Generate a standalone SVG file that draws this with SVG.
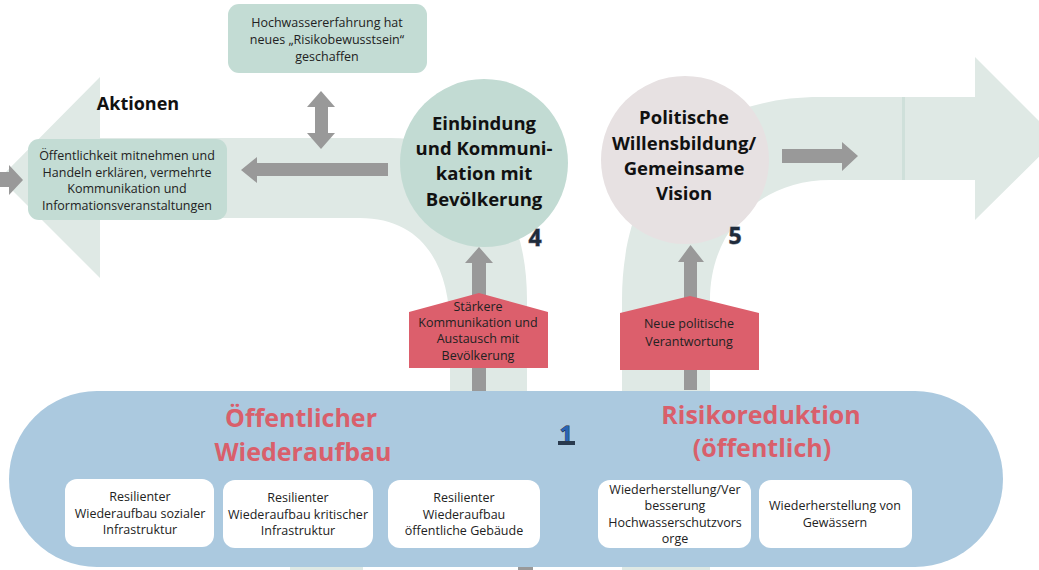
<svg xmlns="http://www.w3.org/2000/svg" width="1039" height="570" viewBox="0 0 1039 570">
<style>
.band{fill:#dfe9e5}
.garrow{fill:#999999}
.gbox{fill:#c3dcd4}
.wbox{fill:#ffffff}
.red{fill:#dc5f6c}
.t{font-family:"Open Sans","DejaVu Sans",sans-serif;font-size:12.5px;fill:#222222;text-anchor:middle}
.tb{font-family:"Open Sans","DejaVu Sans",sans-serif;font-size:18.5px;font-weight:bold;fill:#111111;text-anchor:middle}
.th{font-family:"Open Sans","DejaVu Sans",sans-serif;font-size:25px;font-weight:bold;fill:#d95f6b;text-anchor:middle}
.num{font-family:"Open Sans","DejaVu Sans",sans-serif;font-size:23px;font-weight:bold;fill:#1f2b3b;stroke:#7a8591;stroke-width:0.8;paint-order:stroke;text-anchor:middle}
</style>
<g id="background">
  <path class="band" d="M0,178 L100,77 L100,138 L390,138 C470,138 527,195 527,300 L527,400 L450,400 L450,330 C450,262 420,218 360,218 L100,218 L100,278 Z"/>
  <path class="band" d="M622,570 L622,300 C622,170 700,97 820,97 L975,97 L975,57 L1057,139 L975,220 L975,180 L830,180 C760,180 710,230 710,300 L710,570 Z"/>
  <rect x="902" y="97" width="3" height="83" fill="#cfe0da"/>
  <rect x="290" y="555" width="73" height="15" class="band"/>
  <rect x="518" y="555" width="15" height="15" class="garrow"/>
</g>
<g id="connectors">
  <polygon class="garrow" points="0,172 9,172 9,165 23,180 9,195 9,187 0,187"/>
  <polygon class="garrow" points="388,163 257,163 257,157 241,170 257,183 257,176 388,176"/>
  <polygon class="garrow" points="321,91 335,107 328,107 328,133 335,133 321,149 307,133 315,133 315,107 307,107"/>
  <polygon class="garrow" points="782,149 842,149 842,142 858,156 842,171 842,163 782,163"/>
  <polygon class="garrow" points="472,391 472,263 465,263 479,247 493,263 486,263 486,391"/>
  <polygon class="garrow" points="684,390 684,262 678,262 690.5,245 704,262 697,262 697,390"/>
</g>
<g id="node-hochwasser">
  <rect class="gbox" x="228" y="4" width="199" height="69" rx="11"/>
  <text class="t" x="327" y="27">Hochwassererfahrung hat</text>
  <text class="t" x="327" y="44">neues „Risikobewusstsein“</text>
  <text class="t" x="327" y="61">geschaffen</text>
</g>
<g id="label-aktionen">
  <text x="138" y="110" font-family="Open Sans, DejaVu Sans, sans-serif" font-size="18px" font-weight="bold" fill="#111111" text-anchor="middle">Aktionen</text>
</g>
<g id="node-oeffentlichkeit">
  <rect class="gbox" x="28" y="139" width="199" height="81" rx="11"/>
  <text class="t" x="127" y="160">Öffentlichkeit mitnehmen und</text>
  <text class="t" x="127" y="177">Handeln erklären, vermehrte</text>
  <text class="t" x="127" y="193">Kommunikation und</text>
  <text class="t" x="127" y="210">Informationsveranstaltungen</text>
</g>
<g id="node-einbindung">
  <circle cx="484" cy="163" r="84" fill="#c2dbd3"/>
  <text class="tb" x="484" y="130">Einbindung</text>
  <text class="tb" x="484" y="155">und Kommuni-</text>
  <text class="tb" x="484" y="180">kation mit</text>
  <text class="tb" x="484" y="206">Bevölkerung</text>
  <text class="num" x="535" y="246">4</text>
</g>
<g id="node-politische">
  <circle cx="685" cy="160" r="84" fill="#e7e1e2"/>
  <text class="tb" x="684" y="124">Politische</text>
  <text class="tb" x="684" y="150">Willensbildung/</text>
  <text class="tb" x="684" y="175">Gemeinsame</text>
  <text class="tb" x="684" y="200">Vision</text>
  <text class="num" x="735" y="244">5</text>
</g>
<g id="node-staerkere">
  <polygon class="red" points="409,312 479,293 548,312 548,368 409,368"/>
  <text class="t" x="478" y="311">Stärkere</text>
  <text class="t" x="478" y="327">Kommunikation und</text>
  <text class="t" x="478" y="343">Austausch mit</text>
  <text class="t" x="478" y="360">Bevölkerung</text>
</g>
<g id="node-neue">
  <polygon class="red" points="620,313 690,296 759,313 759,370 620,370"/>
  <text class="t" x="689" y="328">Neue politische</text>
  <text class="t" x="689" y="346">Verantwortung</text>
</g>
<g id="node-pill">
  <rect x="9" y="391" width="994" height="176" rx="88" ry="88" fill="#abc9df"/>
  <text class="th" x="301" y="427">Öffentlicher</text>
  <text class="th" x="303" y="461">Wiederaufbau</text>
  <text class="th" x="761" y="424">Risikoreduktion</text>
  <text class="th" x="762" y="457">(öffentlich)</text>
  <text x="566" y="441" font-family="Open Sans, DejaVu Sans, sans-serif" font-size="22px" font-weight="bold" fill="#2a64b4" stroke="#1f2b3b" stroke-width="1" paint-order="stroke" text-anchor="middle">1</text>
  <rect x="558" y="441" width="17" height="4" fill="#2a3a4e"/>
</g>
<g id="node-sozial">
  <rect class="wbox" x="65" y="479" width="149" height="68" rx="12"/>
  <text class="t" x="140" y="501">Resilienter</text>
  <text class="t" x="140" y="518">Wiederaufbau sozialer</text>
  <text class="t" x="140" y="534">Infrastruktur</text>
</g>
<g id="node-kritisch">
  <rect class="wbox" x="223" y="480" width="150" height="68" rx="12"/>
  <text class="t" x="298" y="502">Resilienter</text>
  <text class="t" x="298" y="519">Wiederaufbau kritischer</text>
  <text class="t" x="298" y="535">Infrastruktur</text>
</g>
<g id="node-gebaeude">
  <rect class="wbox" x="388" y="480" width="152" height="68" rx="12"/>
  <text class="t" x="464" y="502">Resilienter</text>
  <text class="t" x="464" y="519">Wiederaufbau</text>
  <text class="t" x="464" y="535">öffentliche Gebäude</text>
</g>
<g id="node-hochwasserschutz">
  <rect class="wbox" x="598" y="480" width="153" height="68" rx="12"/>
  <text class="t" x="675" y="494">Wiederherstellung/Ver</text>
  <text class="t" x="675" y="510">besserung</text>
  <text class="t" x="675" y="527">Hochwasserschutzvors</text>
  <text class="t" x="675" y="543">orge</text>
</g>
<g id="node-gewaesser">
  <rect class="wbox" x="759" y="480" width="153" height="68" rx="12"/>
  <text class="t" x="835" y="510">Wiederherstellung von</text>
  <text class="t" x="835" y="527">Gewässern</text>
</g>
</svg>
